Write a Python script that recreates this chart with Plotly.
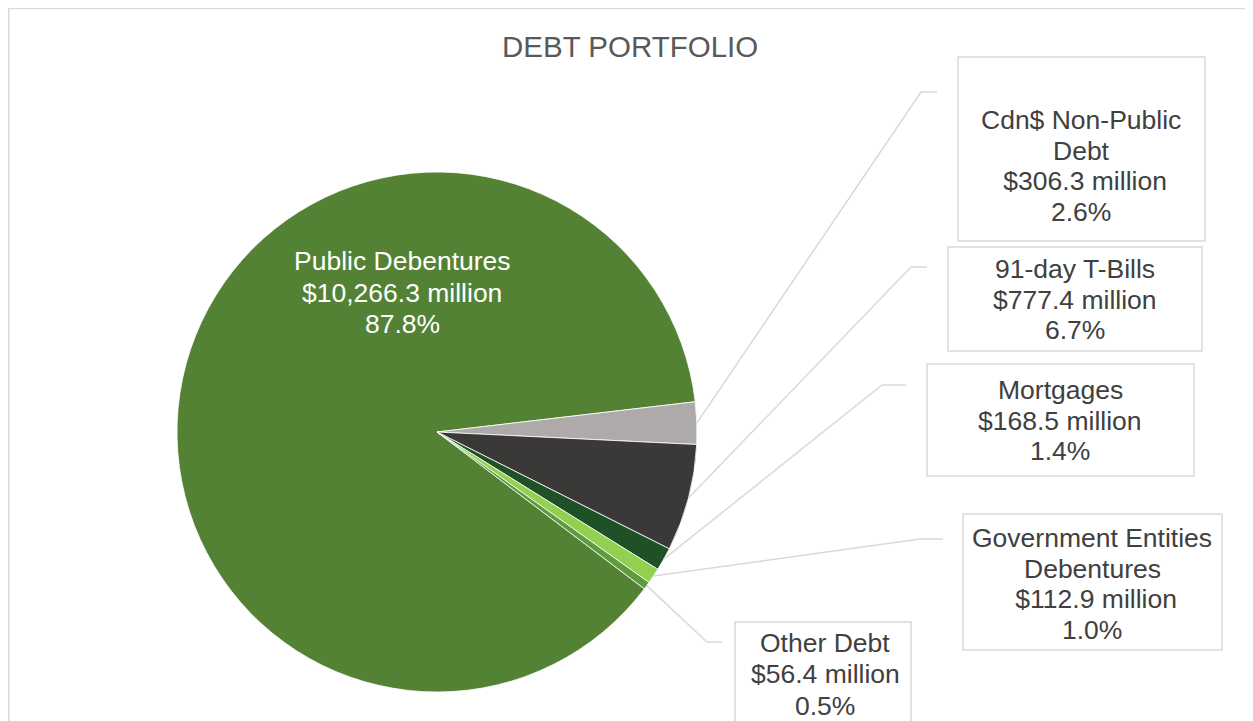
import math
import plotly.graph_objects as go

# ---- data ----
categories = ["Public Debentures", "Cdn$ Non-Public Debt", "91-day T-Bills",
              "Mortgages", "Government Entities Debentures", "Other Debt"]
values_musd = [10266.3, 306.3, 777.4, 168.5, 112.9, 56.4]
pct_labels = ["87.8%", "2.6%", "6.7%", "1.4%", "1.0%", "0.5%"]
label_lines = [
    ["Public Debentures", "$10,266.3 million", "87.8%"],
    ["Cdn$ Non-Public", "Debt", " $306.3 million", "2.6%"],
    ["91-day T-Bills", "$777.4 million", "6.7%"],
    ["Mortgages", "$168.5 million", "1.4%"],
    ["Government Entities", "Debentures", " $112.9 million", "1.0%"],
    ["Other Debt", "$56.4 million", "0.5%"],
]
colors = ["#548235", "#AEAAAA", "#3B3838", "#1E5126", "#92D050", "#5E9B3E"]

W, H = 1253, 721
OFF = 8  # page body margin offset
# pie geometry (pixels in the screenshot)
CX, CY, R = 437, 432, 260
START_DEG = -37.1  # math angle where first slice starts (going clockwise)


def px(x):
    return (x - OFF) / W


def py(y):
    return 1 - (y - OFF) / H


fig = go.Figure()
fig.add_trace(go.Pie(
    labels=categories, values=values_musd, sort=False, direction="clockwise",
    rotation=90 - START_DEG, marker=dict(colors=colors, line=dict(color="white", width=0.8)),
    textinfo="none", hoverinfo="label+value+percent", showlegend=False,
    domain=dict(x=[px(CX - R), px(CX + R)], y=[py(CY + R), py(CY - R)]),
))

# outside label boxes (pixels) and leader line elbows/ends
boxes = {
    1: (958, 57, 1205, 241),
    2: (948, 247, 1202, 351),
    3: (927, 364, 1194, 476),
    4: (963, 514, 1222, 650),
    5: (735, 622, 911, 740),
}
elbows = {1: ((921, 92), (937, 92)), 2: ((911, 267), (927, 267)),
          3: ((882, 385), (906, 385)), 4: ((920, 539), (943, 539)),
          5: ((707, 642), (722, 642))}
text_y = {0: [261, 293, 324], 1: [120, 151, 181, 212], 2: [269, 300, 330],
          3: [390, 421, 451], 4: [538, 569, 599, 630], 5: [643, 674, 706]}
text_x = {0: 402, 1: 1081, 2: 1075, 3: 1060, 4: 1092, 5: 825}

shapes = []
annotations = []
total = sum(values_musd)
cum = 0.0
mid_angles = []
for v in values_musd:
    a0 = START_DEG - 360 * cum / total
    cum += v
    a1 = START_DEG - 360 * cum / total
    mid_angles.append((a0 + a1) / 2)

line_col = "#D9D9D9"
for i in range(1, 6):
    a = math.radians(mid_angles[i])
    sx, sy = CX + R * math.cos(a), CY - R * math.sin(a)
    (ex, ey), (hx, hy) = elbows[i]
    path = f"M {px(sx)},{py(sy)} L {px(ex)},{py(ey)} L {px(hx)},{py(hy)}"
    shapes.append(dict(type="path", xref="paper", yref="paper", path=path,
                       line=dict(color=line_col, width=1.5)))
    x0, y0, x1, y1 = boxes[i]
    shapes.append(dict(type="rect", xref="paper", yref="paper",
                       x0=px(x0), x1=px(x1), y0=py(y1), y1=py(y0),
                       line=dict(color="#D9D9D9", width=1.5), fillcolor="white",
                       layer="above"))

for i, lines in enumerate(label_lines):
    col = "white" if i == 0 else "#404040"
    for ln, yy in zip(lines, text_y[i]):
        annotations.append(dict(
            x=px(text_x[i]), y=py(yy), xref="paper", yref="paper",
            text=ln, showarrow=False, xanchor="center", yanchor="middle",
            font=dict(family="Liberation Sans, Arial", size=26.5, color=col)))

annotations.append(dict(
    x=px(630), y=py(47), xref="paper", yref="paper", text="DEBT PORTFOLIO",
    showarrow=False, xanchor="center", yanchor="middle",
    font=dict(family="Liberation Sans, Arial", size=29.5, color="#595959")))

# chart outer border
shapes.append(dict(type="rect", xref="paper", yref="paper",
                   x0=px(8.75), x1=px(1262), y0=py(760), y1=py(8.5),
                   line=dict(color="#D9D9D9", width=1.5), layer="below"))

fig.update_layout(
    width=W, height=H, margin=dict(l=0, r=0, t=0, b=0),
    paper_bgcolor="white", plot_bgcolor="white",
    shapes=shapes, annotations=annotations,
)
fig.write_html("out.html")
